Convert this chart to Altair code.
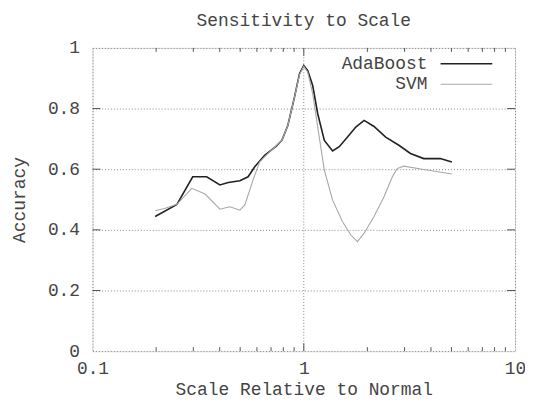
import altair as alt
import pandas as pd

# ---- data ----
ada_x = [0.198, 0.251, 0.298, 0.347, 0.401, 0.439, 0.498, 0.545, 0.586, 0.653, 0.741, 0.788,
         0.841, 0.904, 0.954, 1.0, 1.044, 1.102, 1.164, 1.251, 1.369, 1.472, 1.611, 1.763,
         1.930, 2.150, 2.441, 2.819, 3.199, 3.697, 4.43, 5.02]
ada_y = [0.444, 0.484, 0.575, 0.575, 0.548, 0.556, 0.562, 0.575, 0.608, 0.646, 0.676, 0.695,
         0.745, 0.838, 0.915, 0.942, 0.925, 0.876, 0.783, 0.695, 0.660, 0.674, 0.706, 0.739,
         0.761, 0.741, 0.706, 0.679, 0.652, 0.635, 0.635, 0.624]

svm_x = [0.198, 0.221, 0.251, 0.295, 0.341, 0.401, 0.447, 0.498, 0.526, 0.575, 0.618, 0.689,
         0.788, 0.841, 0.904, 0.954, 1.0, 1.044, 1.102, 1.164, 1.251, 1.369, 1.526, 1.670,
         1.795, 1.930, 2.150, 2.398, 2.626, 2.768, 2.977, 3.697, 5.02]
svm_y = [0.463, 0.471, 0.484, 0.537, 0.518, 0.468, 0.476, 0.465, 0.482, 0.564, 0.624, 0.657,
         0.695, 0.745, 0.838, 0.912, 0.939, 0.920, 0.849, 0.739, 0.597, 0.498, 0.427, 0.383,
         0.361, 0.389, 0.444, 0.509, 0.575, 0.602, 0.610, 0.599, 0.584]

series_names = ["AdaBoost", "SVM"]
series_colors = ["#222222", "#a8a8a8"]
series_widths = [1.6, 1.1]
x_labels = [0.1, 1, 10]
y_labels = [0, 0.2, 0.4, 0.6, 0.8, 1]
x_minor = [0.2, 0.3, 0.4, 0.5, 0.6, 0.7, 0.8, 0.9, 2, 3, 4, 5, 6, 7, 8, 9]
x_major = [1]
y_inner = [0.2, 0.4, 0.6, 0.8]

# key (legend) rows, placed in the plot's own data coordinates (top-right corner)
key_rows_acc = [0.948, 0.880]
key_text_at = 3.85
key_line_from = 4.44
key_line_to = 7.80

# ---- tables ----
rows = [{"scale": x, "acc": y, "series": "AdaBoost"} for x, y in zip(ada_x, ada_y)]
rows += [{"scale": x, "acc": y, "series": "SVM"} for x, y in zip(svm_x, svm_y)]
df = pd.DataFrame(rows)
minor_df = pd.DataFrame({"scale": x_minor})
major_df = pd.DataFrame({"scale": x_major})
yt_df = pd.DataFrame({"acc": y_inner})
key_df = pd.DataFrame({"series": series_names, "acc": key_rows_acc,
                       "scale": [key_text_at] * 2, "x0": [key_line_from] * 2,
                       "x1": [key_line_to] * 2})

W, H = 425, 305
FONT = "Liberation Mono"
FS = 18
TXT = "#444444"
EDGE = "#555555"

xscale = alt.Scale(type="log", domain=[0.1, 10])
yscale = alt.Scale(domain=[0, 1])
cscale = alt.Scale(domain=series_names, range=series_colors)
wscale = alt.Scale(domain=series_names, range=series_widths)

x_axis = alt.Axis(values=x_labels, format="~g", title="Scale Relative to Normal",
                  grid=True, gridDash=[1, 2], gridColor="#888888", gridWidth=1,
                  domain=False, ticks=False, labelPadding=8,
                  labelFont=FONT, labelFontSize=FS, labelColor=TXT, labelFlush=False,
                  titleFont=FONT, titleFontSize=FS, titleColor=TXT, titleFontWeight="normal",
                  titleX=W / 2, titleY=39, titleBaseline="middle", titleAnchor="middle")
y_axis = alt.Axis(values=y_labels, format="~g", title="Accuracy",
                  grid=True, gridDash=[1, 2], gridColor="#888888", gridWidth=1,
                  domain=False, ticks=False, labelPadding=13,
                  labelFont=FONT, labelFontSize=FS, labelColor=TXT, labelFlush=False,
                  titleFont=FONT, titleFontSize=FS, titleColor=TXT, titleFontWeight="normal",
                  titleX=-73, titleY=H / 2, titleAngle=270, titleBaseline="middle",
                  titleAlign="center")

lines = alt.Chart(df).mark_line().encode(
    x=alt.X("scale:Q", scale=xscale, axis=x_axis),
    y=alt.Y("acc:Q", scale=yscale, axis=y_axis),
    color=alt.Color("series:N", scale=cscale, legend=None),
    strokeWidth=alt.StrokeWidth("series:N", scale=wscale, legend=None),
)

key_text = alt.Chart(key_df).mark_text(
    align="right", baseline="middle", font=FONT, fontSize=FS, color=TXT
).encode(x=alt.X("scale:Q", scale=xscale), y=alt.Y("acc:Q", scale=yscale), text="series:N")

key_line = alt.Chart(key_df).mark_rule().encode(
    x=alt.X("x0:Q", scale=xscale), x2="x1:Q", y=alt.Y("acc:Q", scale=yscale),
    color=alt.Color("series:N", scale=cscale, legend=None),
    strokeWidth=alt.StrokeWidth("series:N", scale=wscale, legend=None),
)

tick_x_minor_top = alt.Chart(minor_df).mark_rule(color=EDGE).encode(
    x=alt.X("scale:Q", scale=xscale), y=alt.value(0), y2=alt.value(4))
tick_x_minor_bot = alt.Chart(minor_df).mark_rule(color=EDGE).encode(
    x=alt.X("scale:Q", scale=xscale), y=alt.value(H - 4), y2=alt.value(H))
tick_x_major_top = alt.Chart(major_df).mark_rule(color=EDGE).encode(
    x=alt.X("scale:Q", scale=xscale), y=alt.value(0), y2=alt.value(8))
tick_x_major_bot = alt.Chart(major_df).mark_rule(color=EDGE).encode(
    x=alt.X("scale:Q", scale=xscale), y=alt.value(H - 8), y2=alt.value(H))
tick_y_left = alt.Chart(yt_df).mark_rule(color=EDGE).encode(
    y=alt.Y("acc:Q", scale=yscale), x=alt.value(0), x2=alt.value(8))
tick_y_right = alt.Chart(yt_df).mark_rule(color=EDGE).encode(
    y=alt.Y("acc:Q", scale=yscale), x=alt.value(W - 8), x2=alt.value(W))

chart = alt.layer(
    tick_x_minor_top, tick_x_minor_bot, tick_x_major_top, tick_x_major_bot,
    tick_y_left, tick_y_right, lines, key_text, key_line
).properties(
    width=W, height=H,
    title=alt.TitleParams("Sensitivity to Scale", anchor="middle", offset=9,
                          font=FONT, fontSize=FS, fontWeight="normal", color=TXT),
    autosize=alt.AutoSizeParams(type="none"),
    padding={"left": 85, "top": 39, "right": 10, "bottom": 50},
).configure_view(
    stroke=EDGE, strokeWidth=1
).configure(background="white")

chart.save("out.html", embed_options={"renderer": "svg", "actions": False})
